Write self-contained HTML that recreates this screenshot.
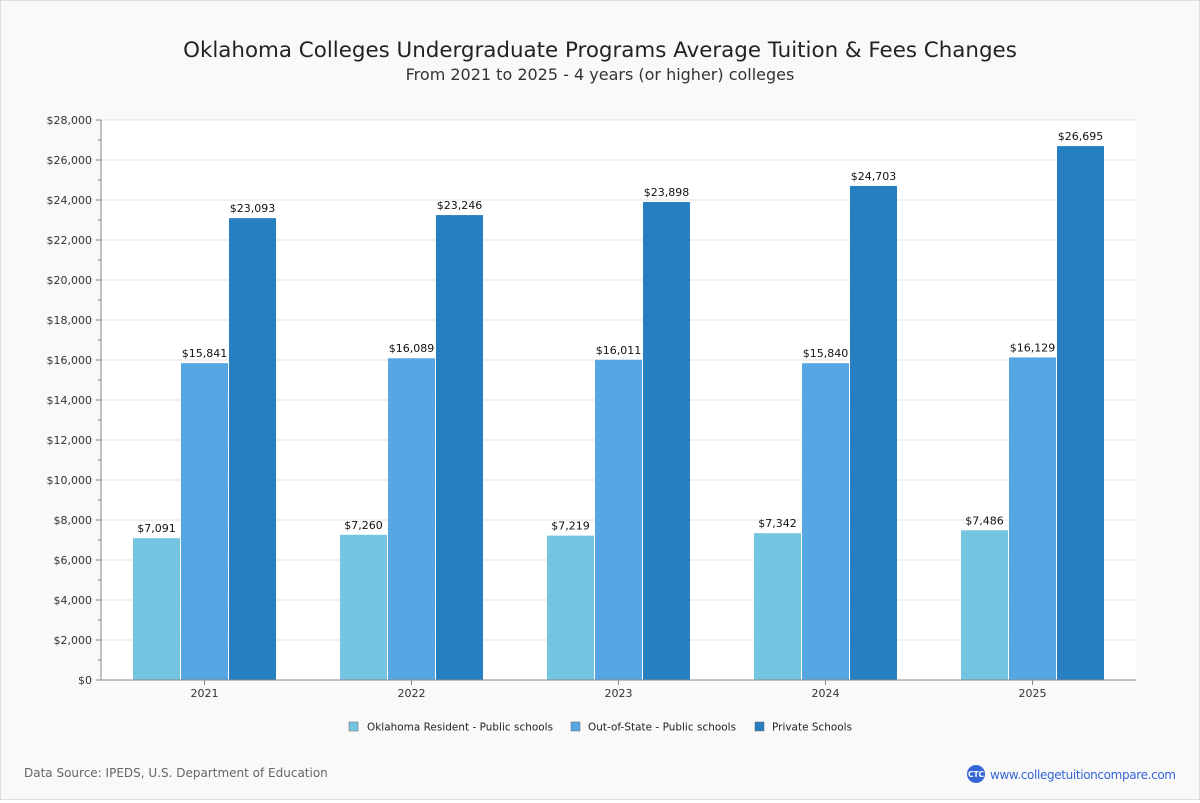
<!DOCTYPE html>
<html><head><meta charset="utf-8"><style>
html,body{margin:0;padding:0;background:#fff}
#wrap{position:relative;width:1198px;height:798px;border:1px solid #ddd;background:#f9f9f9;font-family:"DejaVu Sans","Liberation Sans",sans-serif}
</style></head><body>
<div id="wrap">
<svg id="chart" width="1198" height="798" xmlns="http://www.w3.org/2000/svg" style="font-family:'DejaVu Sans','Liberation Sans',sans-serif">
<text x="599" y="56" text-anchor="middle" font-size="21.4" fill="#222">Oklahoma Colleges Undergraduate Programs Average Tuition &amp; Fees Changes</text>
<text x="599" y="79" text-anchor="middle" font-size="16" fill="#333">From 2021 to 2025 - 4 years (or higher) colleges</text>
<rect x="100" y="119" width="1035" height="560" fill="#fff"/>
<g id="grid"></g><g id="bars"></g><g id="axes"></g>
<g font-size="10.4" fill="#222">
<g><rect x="348" y="721" width="9" height="9" fill="#74c5e1" stroke="#666" stroke-width="0.5"/><text x="366" y="729.5" textLength="186">Oklahoma Resident - Public schools</text></g>
<g><rect x="570" y="721" width="9" height="9" fill="#56a6e3" stroke="#666" stroke-width="0.5"/><text x="587" y="729.5" textLength="148">Out-of-State - Public schools</text></g>
<g><rect x="754" y="721" width="9" height="9" fill="#267fc0" stroke="#666" stroke-width="0.5"/><text x="771" y="729.5" textLength="80">Private Schools</text></g>
</g>
<text x="23" y="776" font-size="12" fill="#666">Data Source: IPEDS, U.S. Department of Education</text>
<g>
<circle cx="975" cy="773" r="9" fill="#3566d6"/><text x="975" y="776" text-anchor="middle" font-size="7.5" fill="#fff" font-weight="bold">CTC</text>
<text x="989" y="778" font-size="12" fill="#3566d6" textLength="186">www.collegetuitioncompare.com</text></g>
</svg></div>
<script>
const categories=["2021","2022","2023","2024","2025"];
const resident=[7091,7260,7219,7342,7486];
const outOfState=[15841,16089,16011,15840,16129];
const privateSchools=[23093,23246,23898,24703,26695];
const yTicks=[0,2000,4000,6000,8000,10000,12000,14000,16000,18000,20000,22000,24000,26000,28000];
const NS="http://www.w3.org/2000/svg";
const X0=100,X1=1135,Y0=679,Y1=119,YMAX=28000;
const y=v=>Y0-(v/YMAX)*(Y0-Y1);
const bw=(X1-X0)/categories.length;
const xc=i=>X0+bw*(i+0.5);
const fmt=v=>"$"+v.toLocaleString("en-US");
function mk(tag,attrs,parent){const e=document.createElementNS(NS,tag);for(const k in attrs)e.setAttribute(k,attrs[k]);parent.appendChild(e);return e;}
const grid=document.getElementById("grid"),axes=document.getElementById("axes"),bars=document.getElementById("bars");
yTicks.forEach(t=>{
  if(t>0){const g=mk("line",{x1:X0,x2:X1,y1:y(t),y2:y(t),stroke:"#e3e3e3"},grid);
  
  }
  mk("line",{x1:X0-5,x2:X0,y1:y(t),y2:y(t),stroke:"#888"},axes);
  const l=mk("text",{x:X0-9,y:y(t)+4,"text-anchor":"end","font-size":"11",fill:"#333"},axes);
  l.textContent=fmt(t);
  
  
  if(t<YMAX)mk("line",{x1:X0-3,x2:X0,y1:y(t+1000),y2:y(t+1000),stroke:"#888"},axes);
});
mk("line",{x1:X0,x2:X0,y1:Y1,y2:Y0,stroke:"#888"},axes);
mk("line",{x1:X0,x2:X1,y1:Y0,y2:Y0,stroke:"#888"},axes);
const series=[[resident,"#74c5e1","resident"],[outOfState,"#56a6e3","out-of-state"],[privateSchools,"#267fc0","private"]];
const barW=47,gap=1;
categories.forEach((c,i)=>{
  mk("line",{x1:xc(i),x2:xc(i),y1:Y0,y2:Y0+5,stroke:"#888"},axes);
  const l=mk("text",{x:xc(i),y:Y0+17,"text-anchor":"middle","font-size":"11",fill:"#333"},axes);
  l.textContent=c;
  
  
  series.forEach((s,j)=>{
    const v=s[0][i];
    const bx=xc(i)+(j-1)*(barW+gap)-barW/2;
    const r=mk("rect",{x:bx,y:y(v),width:barW,height:Y0-y(v),fill:s[1]},bars);
    
    
    const t=mk("text",{x:bx+barW/2,y:y(v)-6,"text-anchor":"middle","font-size":"11",fill:"#111"},bars);
    t.textContent=fmt(v);
    
    
  });
});
</script>
</body></html>
